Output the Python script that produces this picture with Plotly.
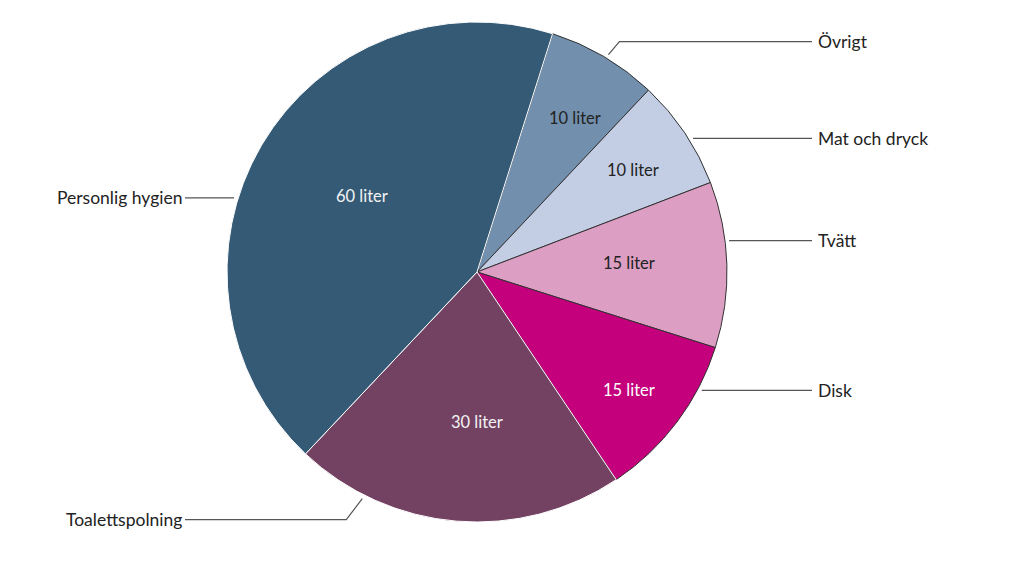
import math
import plotly.graph_objects as go

# ---- data ----
categories = ["Övrigt", "Mat och dryck", "Tvätt", "Disk", "Toalettspolning", "Personlig hygien"]
liters = [10, 10, 15, 15, 30, 60]
inside_labels = [f"{v} liter" for v in liters]

# ---- style ----
colors = ["#7290ad", "#c3cde4", "#dd9ec4", "#c4007c", "#734263", "#345a75"]
line_colors = ["#333333", "#333333", "#333333", "#333333", "#ffffff", "#ffffff"]
text_colors = ["#222222", "#222222", "#222222", "#ffffff", "#f2f2f2", "#f2f2f2"]
FONT = "Lato, 'Noto Sans', sans-serif"

W, H = 1024, 573
PAGE_OFF = 8                   # browser body margin
MT, MB = 14, 59
PH = H - MT - MB               # plot height in px
R = PH / 2                     # pie radius in px
CX, CY = 477 - PAGE_OFF, MT + R  # pie centre in figure px
ROT = 17.6                     # degrees, first slice starts here (clockwise)

# inside text placement: (radius fraction, angle offset from slice middle)
inside_cfg = [(0.73, 2.0), (0.745, 0.6), (0.61, -1.6), (0.77, 0.8), (0.60, -4.7), (0.55, 3.0)]
# outside label placement: (anchor angle offset from slice middle in deg, elbow dx, elbow dy, side)
label_cfg = [
    (0.7, 11, -13, "right"),
    (2.1, 0, 0, "right"),
    (-5.4, 0, 0, "right"),
    (-9.1, 0, 0, "right"),
    (22.1, -16, 21, "left"),
    (-13.5, 0, 0, "left"),
]
RIGHT_END, LEFT_END = 812 - PAGE_OFF, 185 - PAGE_OFF


def px2paper(x, y):
    return x / W, (H - MB - y) / PH


total = sum(liters)
fig = go.Figure(go.Pie(
    labels=categories,
    values=liters,
    textinfo="none",
    sort=False,
    direction="clockwise",
    rotation=ROT,
    marker=dict(colors=colors, line=dict(color=line_colors, width=1)),
    hoverinfo="label+value",
    showlegend=False,
    domain=dict(x=[(CX - R) / W, (CX + R) / W], y=[0, 1]),
))

shapes, annotations = [], []
cum = 0
for i, (cat, v) in enumerate(zip(categories, liters)):
    mid = ROT + (cum + v / 2) / total * 360
    cum += v
    # inside value label
    rf, aoff = inside_cfg[i]
    b = math.radians(mid + aoff)
    tx, ty = px2paper(CX + rf * R * math.sin(b), CY - rf * R * math.cos(b))
    annotations.append(dict(x=tx, y=ty, xref="paper", yref="paper", text=inside_labels[i],
                            showarrow=False, xanchor="center", yanchor="middle",
                            font=dict(family=FONT, size=16.5, color=text_colors[i])))
    # outside category label with leader line
    off, edx, edy, side = label_cfg[i]
    a = math.radians(mid + off)
    x0 = CX + (R + 4) * math.sin(a)
    y0 = CY - (R + 4) * math.cos(a)
    x1, y1 = x0 + edx, y0 + edy
    x2 = RIGHT_END if side == "right" else LEFT_END
    pts = [px2paper(x0, y0), px2paper(x1, y1), px2paper(x2, y1)]
    path = "M {} {} L {} {} L {} {}".format(*[c for p in pts for c in p])
    shapes.append(dict(type="path", path=path, xref="paper", yref="paper",
                       line=dict(color="#555555", width=1.2)))
    lx, ly = px2paper(x2 + (4 if side == "right" else -1), y1)
    annotations.append(dict(x=lx, y=ly, xref="paper", yref="paper", text=cat,
                            showarrow=False, xanchor="left" if side == "right" else "right",
                            yanchor="middle",
                            font=dict(family=FONT, size=17.5, color="#222222")))

fig.update_layout(
    width=W, height=H,
    margin=dict(l=0, r=0, t=MT, b=MB),
    paper_bgcolor="white", plot_bgcolor="white",
    shapes=shapes, annotations=annotations,
)
fig.write_html("out.html")
